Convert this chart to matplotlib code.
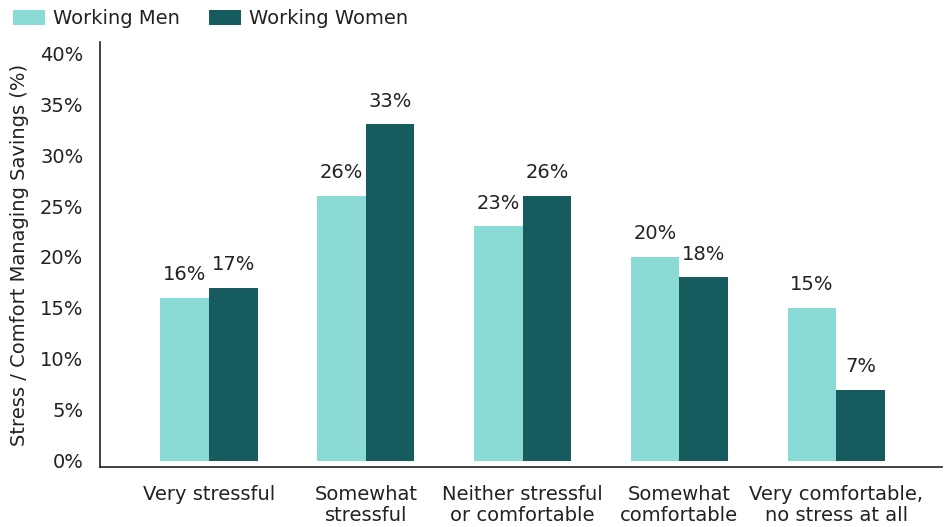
import numpy as np
import matplotlib.pyplot as plt
from matplotlib.ticker import FuncFormatter

# survey answers: how stressful is managing savings
categories = ['Very stressful', 'Somewhat\nstressful', 'Neither stressful\nor comfortable',
              'Somewhat\ncomfortable', 'Very comfortable,\nno stress at all']
men = [16, 26, 23, 20, 15]
women = [17, 33, 26, 18, 7]

light = '#8adad6'
dark = '#165b5e'
txt = '#222222'

plt.rcParams['font.family'] = ['DejaVu Sans']
plt.rcParams['font.size'] = 14

fig = plt.figure(figsize=(9.48, 5.27), dpi=100)
ax = fig.add_axes([100/948, 60/527, 842/948, 425/527])

x = np.arange(len(categories))
w = 0.31
b1 = ax.bar(x - w/2, men, w, color=light, label='Working Men')
b2 = ax.bar(x + w/2, women, w, color=dark, label='Working Women')

for bars, vals in ((b1, men), (b2, women)):
    for r, v in zip(bars, vals):
        ax.annotate(f'{v}%', (r.get_x() + r.get_width()/2, v), xytext=(0, 10),
                    textcoords='offset points', ha='center', va='bottom',
                    fontsize=14, color=txt)

ax.set_xlim(-0.695, 4.675)
ax.set_ylim(-0.59, 41.08)
ax.set_yticks(range(0, 41, 5))
ax.yaxis.set_major_formatter(FuncFormatter(lambda v, p: f'{v:.0f}%'))
ax.set_xticks(x)
ax.set_xticklabels(categories, fontsize=14, color=txt, linespacing=1.1)
ax.tick_params(axis='both', length=0, colors=txt, labelsize=14)
ax.tick_params(axis='x', pad=13)
ax.tick_params(axis='y', pad=12)
ax.set_ylabel('Stress / Comfort Managing Savings (%)', fontsize=14, color=txt, labelpad=8)

for s in ('top', 'right'):
    ax.spines[s].set_visible(False)
for s in ('left', 'bottom'):
    ax.spines[s].set_color('#222222')
    ax.spines[s].set_linewidth(1.2)

fig.legend(loc='upper left', bbox_to_anchor=(13/948, 1 - 9/527), ncol=2, frameon=False,
           handlelength=1.65, handleheight=0.82, handletextpad=0.41, columnspacing=1.5,
           borderpad=0, borderaxespad=0, labelcolor=txt, fontsize=14)

fig.savefig('out.png', dpi=100)
